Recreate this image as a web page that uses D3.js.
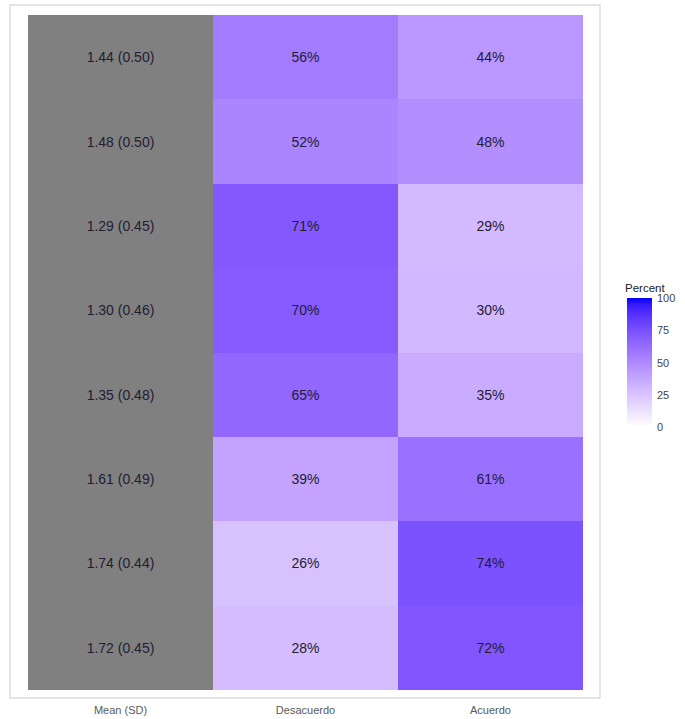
<!DOCTYPE html>
<html>
<head>
<meta charset="utf-8">
<script src="https://cdn.jsdelivr.net/npm/d3@7"></script>
<style>
  html, body { margin: 0; padding: 0; background: #fff; }
  svg { display: block; font-family: "Liberation Sans", Arial, sans-serif; }
</style>
</head>
<body>
<svg id="chart" width="685" height="719"></svg>
<script>
// Column headers shown along the x axis
const columns = ["Mean (SD)", "Desacuerdo", "Acuerdo"];
// One entry per item (row), top to bottom
const rowIds = ["1", "2", "3", "4", "5", "6", "7", "8"];
const meanSd = ["1.44 (0.50)", "1.48 (0.50)", "1.29 (0.45)", "1.30 (0.46)",
                "1.35 (0.48)", "1.61 (0.49)", "1.74 (0.44)", "1.72 (0.45)"];
const desacuerdo = [56, 52, 71, 70, 65, 39, 26, 28];
const acuerdo = [44, 48, 29, 30, 35, 61, 74, 72];
const legendTicks = [0, 25, 50, 75, 100];

const svg = d3.select("#chart");

const panel = { left: 10, top: 5, right: 600, bottom: 698 };
const plot = { left: 28, top: 15, right: 583, bottom: 690 };

const x = d3.scaleBand().domain(columns).range([plot.left, plot.right]).padding(0);
const y = d3.scaleBand().domain(rowIds).range([plot.top, plot.bottom]).padding(0);
const color = d3.scaleLinear().domain([0, 100]).range(["#ffffff", "#0000ff"])
  .interpolate(d3.interpolateLab);

// Panel background and border
svg.append("rect")
  .attr("x", panel.left).attr("y", panel.top)
  .attr("width", panel.right - panel.left).attr("height", panel.bottom - panel.top)
  .attr("fill", "#fff").attr("stroke", "#d4d4d4").attr("stroke-width", 1.2);

// Tile data
const cells = [];
rowIds.forEach((r, i) => {
  cells.push({ row: r, col: "Mean (SD)", fill: "#808080", label: meanSd[i] });
  cells.push({ row: r, col: "Desacuerdo", fill: color(desacuerdo[i]), label: desacuerdo[i] + "%" });
  cells.push({ row: r, col: "Acuerdo", fill: color(acuerdo[i]), label: acuerdo[i] + "%" });
});

svg.append("g").attr("shape-rendering", "crispEdges")
  .selectAll("rect").data(cells).join("rect")
  .attr("x", d => x(d.col))
  .attr("y", d => y(d.row))
  .attr("width", x.bandwidth())
  .attr("height", y.bandwidth())
  .attr("fill", d => d.fill);

svg.append("g").selectAll("text").data(cells).join("text")
  .attr("x", d => x(d.col) + x.bandwidth() / 2)
  .attr("y", d => y(d.row) + y.bandwidth() / 2)
  .attr("text-anchor", "middle")
  .attr("dominant-baseline", "central")
  .attr("font-size", 14)
  .attr("fill", "#231d33")
  .text(d => d.label);

// X axis labels
const xAxis = d3.axisBottom(x).tickSize(0).tickPadding(0);
const gx = svg.append("g").attr("transform", `translate(0, ${panel.bottom + 8})`).call(xAxis);
gx.select(".domain").remove();
gx.selectAll("text").attr("font-size", 11).attr("fill", "#5a5a5a")
  .attr("font-family", "'Liberation Sans', Arial, sans-serif");

// Legend: colour bar
const lg = { x: 627, top: 298, bottom: 427, w: 25 };
const defs = svg.append("defs");
const grad = defs.append("linearGradient").attr("id", "pctGrad")
  .attr("x1", 0).attr("y1", 1).attr("x2", 0).attr("y2", 0);
d3.range(0, 101, 5).forEach(v => {
  grad.append("stop").attr("offset", v / 100).attr("stop-color", color(v));
});
svg.append("rect")
  .attr("x", lg.x).attr("y", lg.top)
  .attr("width", lg.w).attr("height", lg.bottom - lg.top)
  .attr("fill", "url(#pctGrad)");

const ly = d3.scaleLinear().domain([0, 100]).range([lg.bottom, lg.top]);
const legendAxis = d3.axisRight(ly).tickValues(legendTicks).tickSize(0).tickPadding(5);
const gl = svg.append("g").attr("transform", `translate(${lg.x + lg.w}, 0)`).call(legendAxis);
gl.select(".domain").remove();
gl.selectAll("text").attr("font-size", 11).attr("fill", "#444")
  .attr("font-family", "'Liberation Sans', Arial, sans-serif");

svg.append("text")
  .attr("x", lg.x - 2).attr("y", lg.top - 6)
  .attr("font-size", 11.5).attr("fill", "#222")
  .text("Percent");
</script>
</body>
</html>
